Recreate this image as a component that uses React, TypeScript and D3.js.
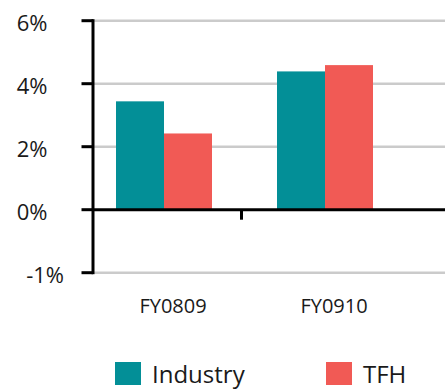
import React from "react";
import * as d3 from "d3";

const categories = ["FY0809", "FY0910"];
const seriesNames = ["Industry", "TFH"];
const industryValues = [3.44, 4.39];
const tfhValues = [2.42, 4.59];
const yTickValues = [-2, 0, 2, 4, 6];
const yTickLabels = ["-1%", "0%", "2%", "4%", "6%"];
const colors = ["#038F97", "#F15A55"];

const W = 445;
const H = 391;
const FONT = "'Open Sans', 'Noto Sans', sans-serif";

export default function App() {
  const x0 = 93;
  const xRight = 445;
  const y = d3.scaleLinear().domain([-2, 6]).range([272.7, 20.7]);
  const xGroup = d3.scaleBand<string>().domain(categories).range([83.5, 405.5]).paddingInner(0).paddingOuter(0);
  const xInner = d3.scaleBand<string>().domain(seriesNames).range([0, 96]);
  const groupOffset = (xGroup.bandwidth() - 96) / 2;
  const values = [industryValues, tfhValues];

  return (
    <svg width={W} height={H} style={{ position: "absolute", left: 0, top: 0 }}>
      <rect x={0} y={0} width={W} height={H} fill="#fff" />
      {yTickValues.filter((v) => v !== 0).map((v) => (
        <line key={"g" + v} x1={x0} x2={xRight} y1={y(v)} y2={y(v)} stroke="#CBCBCB" strokeWidth={2.6} />
      ))}
      {categories.map((c, ci) =>
        seriesNames.map((s, si) => {
          const v = values[si][ci];
          const bx = (xGroup(c) as number) + groupOffset + (xInner(s) as number);
          return (
            <rect
              key={c + s}
              x={bx}
              y={y(Math.max(0, v))}
              width={xInner.bandwidth()}
              height={Math.abs(y(v) - y(0))}
              fill={colors[si]}
            />
          );
        })
      )}
      <line x1={x0} x2={xRight} y1={y(0)} y2={y(0)} stroke="#000" strokeWidth={3} />
      <line x1={241.5} x2={241.5} y1={y(0)} y2={y(0) + 10} stroke="#000" strokeWidth={3} />
      <line x1={x0} x2={x0} y1={y(6) - 1.5} y2={y(-2) + 1.5} stroke="#000" strokeWidth={3} />
      {yTickValues.map((v, i) => (
        <g key={"t" + v}>
          <line x1={81.5} x2={x0} y1={y(v)} y2={y(v)} stroke="#000" strokeWidth={3} />
          <text
            x={v < 0 ? 64 : 47.5}
            y={y(v) + 4}
            textAnchor="end"
            dominantBaseline="middle"
            fontFamily={FONT}
            fontSize={22}
            fill="#1a1a1a"
          >
            {yTickLabels[i]}
          </text>
        </g>
      ))}
      {categories.map((c) => (
        <text
          key={"c" + c}
          x={(xGroup(c) as number) + xGroup.bandwidth() / 2 + 9}
          y={313}
          textAnchor="middle"
          fontFamily={FONT}
          fontSize={20}
          fill="#1a1a1a"
        >
          {c}
        </text>
      ))}
      {seriesNames.map((s, i) => {
        const lx = [115, 326][i];
        return (
          <g key={"l" + s}>
            <rect x={lx} y={362} width={26} height={23} fill={colors[i]} />
            <text x={lx + 37} y={383} fontFamily={FONT} fontSize={24} fill="#1a1a1a">
              {s}
            </text>
          </g>
        );
      })}
    </svg>
  );
}
